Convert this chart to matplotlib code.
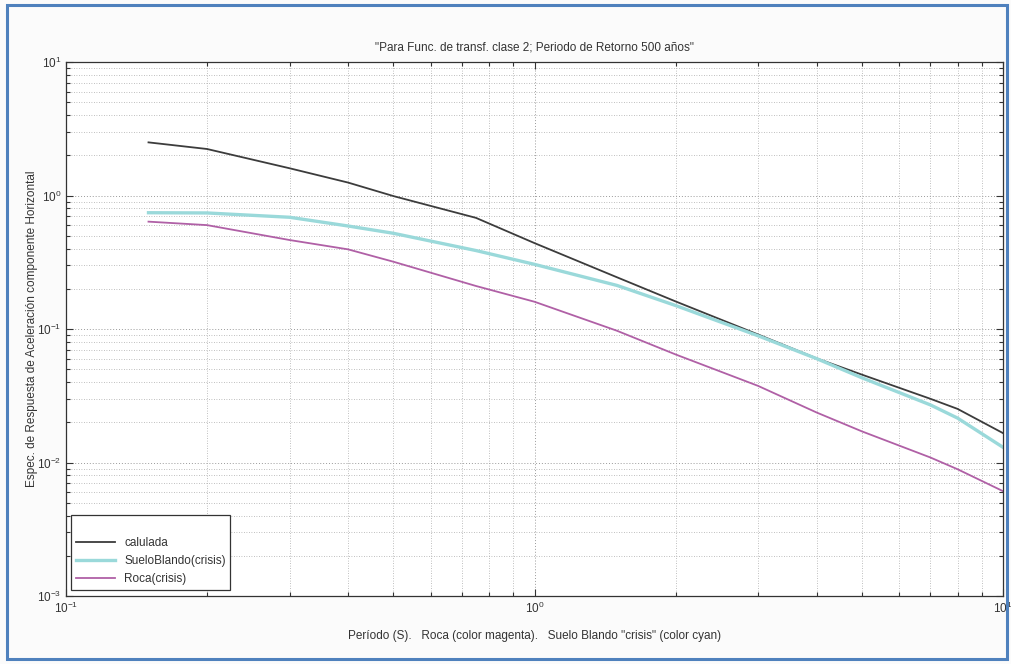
import numpy as np
import matplotlib
matplotlib.use('Agg')
import matplotlib.pyplot as plt
from matplotlib.patches import Rectangle

periodo = [0.15, 0.2, 0.3, 0.4, 0.5, 0.75, 1.0, 1.5, 2.0, 3.0, 4.0, 5.0, 7.0, 8.0, 10.0]
calulada = [2.50, 2.23, 1.60, 1.25, 0.99, 0.68, 0.44, 0.244, 0.161, 0.091, 0.0603, 0.0455, 0.0300, 0.0252, 0.0166]
suelo_blando = [0.743, 0.74, 0.687, 0.591, 0.521, 0.387, 0.305, 0.212, 0.150, 0.089, 0.0600, 0.0431, 0.0270, 0.0215, 0.0130]
roca = [0.637, 0.60, 0.464, 0.395, 0.319, 0.21, 0.16, 0.097, 0.0645, 0.0375, 0.0237, 0.0171, 0.0109, 0.0089, 0.0061]

etiquetas = ['calulada', 'SueloBlando(crisis)', 'Roca(crisis)']
titulo = '"Para Func. de transf. clase 2; Periodo de Retorno 500 años"'
xlab = 'Período (S).   Roca (color magenta).   Suelo Blando "crisis" (color cyan)'
ylab = 'Espec. de Respuesta de Aceleración componente Horizontal'

plt.rcParams['font.family'] = ['Liberation Sans', 'DejaVu Sans']
plt.rcParams['font.size'] = 8.5
plt.rcParams['mathtext.default'] = 'regular'
plt.rcParams['text.color'] = '#333333'
plt.rcParams['axes.labelcolor'] = '#333333'
plt.rcParams['xtick.color'] = '#333333'
plt.rcParams['ytick.color'] = '#333333'

fig = plt.figure(figsize=(10.11, 6.64), dpi=100, facecolor='#fbfbfb')
ax = fig.add_axes([66/1011, 68/664, 937/1011, 534/664])
ax.set_facecolor('white')

ax.loglog(periodo, calulada, color='#3c3c3c', lw=1.3, label=etiquetas[0])
ax.loglog(periodo, suelo_blando, color='#9ad9da', lw=2.4, label=etiquetas[1])
ax.loglog(periodo, roca, color='#b060a6', lw=1.3, label=etiquetas[2])

ax.set_xlim(0.1, 10)
ax.set_ylim(1e-3, 10)

ax.grid(True, which='major', color='#9a9a9a', ls=(0, (1, 2)), lw=0.7)
ax.grid(True, which='minor', color='#aaaaaa', ls=(0, (1, 2)), lw=0.6)
ax.tick_params(which='both', direction='in', top=True, right=True, width=0.8)
ax.tick_params(which='major', length=5)
ax.tick_params(which='minor', length=3)
for s in ax.spines.values():
    s.set_color('#333333')
    s.set_linewidth(0.9)

ax.set_title(titulo, fontsize=8.5, pad=8)
ax.set_xlabel(xlab, labelpad=10)
ax.set_ylabel(ylab)
ax.yaxis.set_label_coords(-0.030, 0.5)

leg = ax.legend(loc='lower left', bbox_to_anchor=(5/937, 6/534), borderaxespad=0,
                fancybox=False, edgecolor='#333333', framealpha=1, title=' ',
                handlelength=3.3, labelspacing=0.5, borderpad=0.4, fontsize=8.5)
leg.get_frame().set_linewidth(0.9)

# marco azul de la figura
fig.patches.append(Rectangle((7/1011, 5/664), 1000/1011, 654/664, transform=fig.transFigure,
                             fill=False, edgecolor='#4f81bd', lw=2.2))

fig.savefig('out.png', dpi=100, facecolor=fig.get_facecolor())
